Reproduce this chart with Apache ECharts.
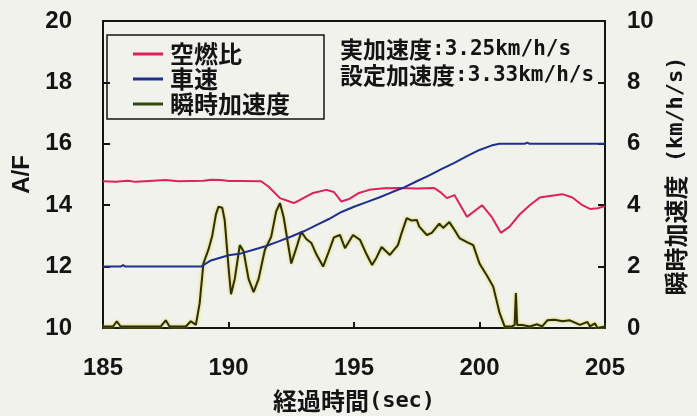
<!DOCTYPE html>
<html>
<head>
<meta charset="utf-8">
<script src="https://cdn.jsdelivr.net/npm/echarts@6/dist/echarts.min.js"></script>
<style>
  html, body { margin: 0; padding: 0; background: #f2f2ed; }
  #chart { width: 697px; height: 416px; }
</style>
</head>
<body>
<div id="chart"></div>
<script>
// Air/fuel ratio (left axis)
const afTime  = [185.0, 185.5, 186.0, 186.3, 187.0, 187.5, 188.0, 188.5, 189.0, 189.3, 189.7, 190.0, 190.5, 191.3, 191.6, 192.05, 192.6, 192.85, 193.37, 193.9, 194.2, 194.5, 194.8, 195.2, 195.6, 196.2, 196.8, 197.5, 198.2, 198.45, 198.7, 199.0, 199.5, 200.1, 200.5, 200.85, 201.2, 201.6, 202.0, 202.4, 202.8, 203.3, 203.7, 204.1, 204.4, 204.7, 205.0];
const afValue = [14.78, 14.76, 14.8, 14.76, 14.8, 14.82, 14.78, 14.79, 14.8, 14.83, 14.82, 14.79, 14.79, 14.78, 14.6, 14.23, 14.07, 14.17, 14.4, 14.5, 14.43, 14.12, 14.2, 14.4, 14.5, 14.55, 14.56, 14.54, 14.56, 14.42, 14.23, 14.33, 13.62, 14.0, 13.6, 13.1, 13.3, 13.7, 14.0, 14.25, 14.3, 14.36, 14.25, 14.0, 13.88, 13.9, 13.97];

// Vehicle speed (plotted on the left scale)
const speedTime  = [185.0, 185.7, 185.8, 185.9, 188.9, 189.3, 190.0, 190.5, 191.0, 191.5, 192.0, 192.5, 193.0, 193.5, 194.0, 194.5, 195.0, 195.5, 196.0, 196.5, 197.0, 197.5, 198.0, 198.5, 199.0, 199.5, 200.0, 200.5, 200.8, 201.8, 201.9, 202.0, 205.0];
const speedValue = [12.0, 12.0, 12.05, 12.0, 12.0, 12.2, 12.37, 12.43, 12.55, 12.67, 12.82, 12.98, 13.15, 13.35, 13.55, 13.78, 13.95, 14.1, 14.25, 14.42, 14.58, 14.78, 14.97, 15.18, 15.38, 15.6, 15.8, 15.95, 16.0, 16.0, 16.04, 16.0, 16.0];

// Instantaneous acceleration (right axis, km/h/s)
const accTime  = [185.0, 185.4, 185.55, 185.7, 187.3, 187.5, 187.65, 188.3, 188.5, 188.7, 188.85, 189.0, 189.2, 189.35, 189.5, 189.6, 189.75, 189.85, 190.0, 190.1, 190.25, 190.45, 190.6, 190.8, 191.0, 191.2, 191.45, 191.7, 191.9, 192.05, 192.2, 192.5, 192.7, 192.9, 193.1, 193.3, 193.5, 193.77, 194.0, 194.2, 194.44, 194.64, 194.96, 195.24, 195.5, 195.72, 195.9, 196.1, 196.43, 196.75, 196.9, 197.1, 197.3, 197.5, 197.6, 197.9, 198.1, 198.3, 198.4, 198.55, 198.8, 199.0, 199.2, 199.5, 199.75, 200.0, 200.3, 200.55, 200.8, 201.0, 201.3, 201.4, 201.45, 201.5, 201.7, 202.0, 202.3, 202.5, 202.7, 203.0, 203.3, 203.6, 204.0, 204.3, 204.4, 204.6, 204.7, 205.0];
const accValue = [0.05, 0.05, 0.22, 0.05, 0.05, 0.25, 0.05, 0.05, 0.22, 0.1, 0.8, 2.1, 2.55, 3.0, 3.7, 3.95, 3.92, 3.5, 2.0, 1.1, 1.6, 2.7, 2.5, 1.6, 1.17, 1.6, 2.55, 2.97, 3.8, 4.07, 3.6, 2.1, 2.6, 3.13, 2.9, 2.77, 2.4, 2.0, 2.5, 2.95, 3.03, 2.6, 3.03, 2.87, 2.4, 2.05, 2.3, 2.64, 2.38, 2.7, 3.1, 3.58, 3.5, 3.52, 3.3, 3.03, 3.1, 3.3, 3.4, 3.26, 3.45, 3.2, 2.93, 2.8, 2.7, 2.1, 1.7, 1.34, 0.49, 0.05, 0.05, 0.1, 1.14, 0.1, 0.1, 0.05, 0.12, 0.05, 0.25, 0.27, 0.22, 0.25, 0.1, 0.2, 0.05, 0.15, 0.0, 0.05];

const seriesNames = ['空燃比', '車速', '瞬時加速度'];
const noteLines = [['実加速度', ':3.25km/h/s'], ['設定加速度', ':3.33km/h/s']];
const rightTitle = ['瞬時加速度', ' (km/h/s)'];

const pairs = (xs, ys) => xs.map((x, i) => [x, ys[i]]);

const CJK = '"Noto Sans CJK JP", sans-serif';
const NUM = '"Liberation Sans", Arial, sans-serif';
const MONO = '"DejaVu Sans Mono", monospace';
const INK = '#141414';

const chart = echarts.init(document.getElementById('chart'), null, { renderer: 'canvas' });

const tickLabel = { color: INK, fontFamily: NUM, fontWeight: 'bold', fontSize: 24 };
const richCM = (cjkSize, monoSize) => ({
  c: { fontFamily: CJK, fontWeight: 'bold', fontSize: cjkSize, fill: INK, color: INK },
  m: { fontFamily: MONO, fontWeight: 'bold', fontSize: monoSize, fill: INK, color: INK }
});

const notes = noteLines.map((ln, i) => ({
  type: 'text',
  left: 340, top: 38 + i * 26,
  style: { text: '{c|' + ln[0] + '}{m|' + ln[1] + '}', rich: richCM(23, 21) }
}));

// right-hand axis title, rotated to read upward
notes.push({
  type: 'text',
  x: 676, y: 176,
  rotation: Math.PI / 2,
  style: {
    text: '{c|' + rightTitle[0] + '}{m|' + rightTitle[1] + '}',
    rich: richCM(24, 22),
    align: 'center', verticalAlign: 'middle'
  }
});

chart.setOption({
  backgroundColor: '#f2f2ed',
  animation: false,
  grid: {
    left: 103, right: 92, top: 21, bottom: 88,
    outerBoundsMode: 'none', containLabel: false,
    show: true, borderColor: INK, borderWidth: 2, backgroundColor: 'transparent'
  },
  legend: {
    orient: 'vertical',
    left: 107, top: 35,
    padding: [7, 34, 3, 26],
    borderColor: INK, borderWidth: 1.5,
    itemWidth: 30, itemHeight: 3, itemGap: 1,
    icon: 'rect',
    selectedMode: false,
    data: seriesNames,
    textStyle: { color: INK, fontFamily: CJK, fontWeight: 'bold', fontSize: 24, lineHeight: 24, padding: [0, 0, 0, 2] }
  },
  graphic: notes,
  xAxis: {
    type: 'value', min: 185, max: 205, interval: 5,
    name: '{c|経過時間}{m|(sec)}',
    nameLocation: 'middle', nameGap: 61,
    nameTextStyle: { rich: richCM(24, 22) },
    axisLine: { lineStyle: { color: INK, width: 2 } },
    axisTick: { inside: true, length: 6, lineStyle: { color: INK, width: 2 } },
    axisLabel: Object.assign({ margin: 28 }, tickLabel),
    splitLine: { show: false }
  },
  yAxis: [
    {
      type: 'value', min: 10, max: 20, interval: 2,
      name: 'A/F', nameLocation: 'middle', nameGap: 67,
      nameTextStyle: { color: INK, fontFamily: NUM, fontWeight: 'bold', fontSize: 24 },
      axisLine: { show: true, lineStyle: { color: INK, width: 2 } },
      axisTick: { show: true, inside: true, length: 7, lineStyle: { color: INK, width: 2 } },
      axisLabel: Object.assign({ margin: 31 }, tickLabel),
      splitLine: { show: false }
    },
    {
      type: 'value', min: 0, max: 10, interval: 2, position: 'right',
      axisLine: { show: true, lineStyle: { color: INK, width: 2 } },
      axisTick: { show: true, inside: true, length: 7, lineStyle: { color: INK, width: 2 } },
      axisLabel: Object.assign({ margin: 22 }, tickLabel),
      splitLine: { show: false }
    }
  ],
  series: [
    {
      name: seriesNames[0], type: 'line', yAxisIndex: 0,
      data: pairs(afTime, afValue), showSymbol: false, symbol: 'none',
      itemStyle: { color: '#e0205c' },
      lineStyle: { color: '#e0205c', width: 2 }, z: 3
    },
    {
      name: seriesNames[1], type: 'line', yAxisIndex: 0,
      data: pairs(speedTime, speedValue), showSymbol: false, symbol: 'none',
      itemStyle: { color: '#1f2f8c' },
      lineStyle: { color: '#1f2f8c', width: 2 }, z: 4
    },
    {
      name: seriesNames[2], type: 'line', yAxisIndex: 1,
      data: pairs(accTime, accValue), showSymbol: false, symbol: 'none',
      itemStyle: { color: '#2e4a08' },
      lineStyle: { color: '#2a2f05', width: 2, shadowColor: 'rgba(215,205,20,0.95)', shadowBlur: 3 }, z: 2
    }
  ]
});
</script>
</body>
</html>
